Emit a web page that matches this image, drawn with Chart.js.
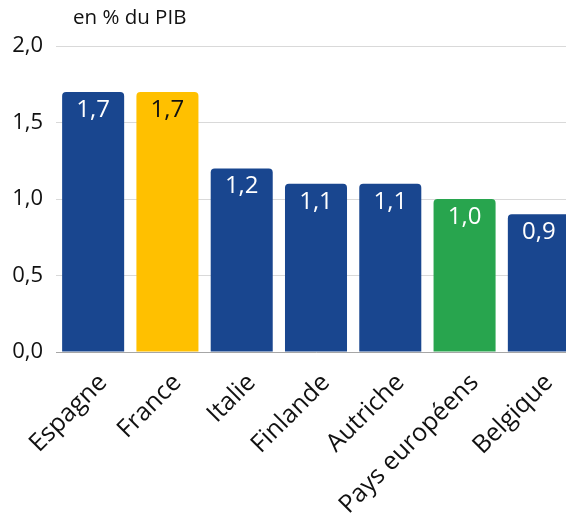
<!DOCTYPE html>
<html lang="fr">
<head>
    <meta charset="UTF-8">
    <title>en % du PIB</title>
    <script src="https://cdn.jsdelivr.net/npm/chart.js@4"></script>
    <style>
        html, body { margin: 0; padding: 0; background: #fff; overflow: hidden; }
        .wrap { position: relative; width: 566px; height: 515px; overflow: hidden; }
        #chart { position: absolute; left: 0; top: 0; }
    </style>
</head>
<body>
    <div class="wrap">
        <canvas id="chart" width="576" height="515"></canvas>
    </div>

    <script>
        const unitNote = 'en % du PIB';
        const pays = ['Espagne', 'France', 'Italie', 'Finlande', 'Autriche', 'Pays européens', 'Belgique'];
        const valeurs = [1.7, 1.7, 1.2, 1.1, 1.1, 1.0, 0.9];
        const couleurs = ['#19468f', '#ffc000', '#19468f', '#19468f', '#19468f', '#28a54e', '#19468f'];
        const couleursTexte = ['#ffffff', '#111111', '#ffffff', '#ffffff', '#ffffff', '#ffffff', '#ffffff'];
        const yTicks = [0, 0.5, 1.0, 1.5, 2.0];

        const fmt = v => v.toFixed(1).replace('.', ',');
        const police = "'Open Sans', 'Noto Sans', sans-serif";

        // valeurs dans le haut des barres + note d'unité
        const etiquettes = {
            id: 'etiquettes',
            afterDatasetsDraw(chart) {
                const ctx = chart.ctx;
                const meta = chart.getDatasetMeta(0);
                ctx.save();
                ctx.font = '24px ' + police;
                ctx.textAlign = 'center';
                ctx.textBaseline = 'alphabetic';
                meta.data.forEach((bar, i) => {
                    ctx.fillStyle = couleursTexte[i];
                    ctx.fillText(fmt(valeurs[i]), bar.x, bar.y + 25);
                });
                ctx.font = '20.5px ' + police;
                ctx.textAlign = 'left';
                ctx.fillStyle = '#111111';
                ctx.fillText(unitNote, 73, 24);
                ctx.restore();
            }
        };

        new Chart(document.getElementById('chart'), {
            type: 'bar',
            data: {
                labels: pays,
                datasets: [{
                    data: valeurs,
                    backgroundColor: couleurs,
                    borderRadius: { topLeft: 4, topRight: 4 },
                    borderSkipped: 'bottom',
                    categoryPercentage: 1,
                    barPercentage: 0.835
                }]
            },
            options: {
                responsive: false,
                animation: false,
                layout: { padding: { top: 46, left: 0, right: 0, bottom: 0 } },
                plugins: {
                    legend: { display: false },
                    tooltip: { enabled: false }
                },
                scales: {
                    x: {
                        grid: { display: false },
                        border: { color: '#a6a6a6', width: 1 },
                        ticks: {
                            color: '#111111',
                            font: { family: police, size: 25 },
                            minRotation: 45,
                            maxRotation: 45,
                            padding: 8,
                            labelOffset: 10
                        },
                        afterFit: s => { s.height = 163; }
                    },
                    y: {
                        min: 0,
                        max: 2,
                        afterBuildTicks: s => { s.ticks = yTicks.map(v => ({ value: v })); },
                        grid: { color: '#d9d9d9', drawTicks: false },
                        border: { display: false },
                        ticks: {
                            color: '#111111',
                            font: { family: police, size: 22 },
                            padding: 13,
                            callback: v => fmt(v)
                        },
                        afterFit: s => { s.width = 56; }
                    }
                }
            },
            plugins: [etiquettes]
        });
    </script>
</body>
</html>
